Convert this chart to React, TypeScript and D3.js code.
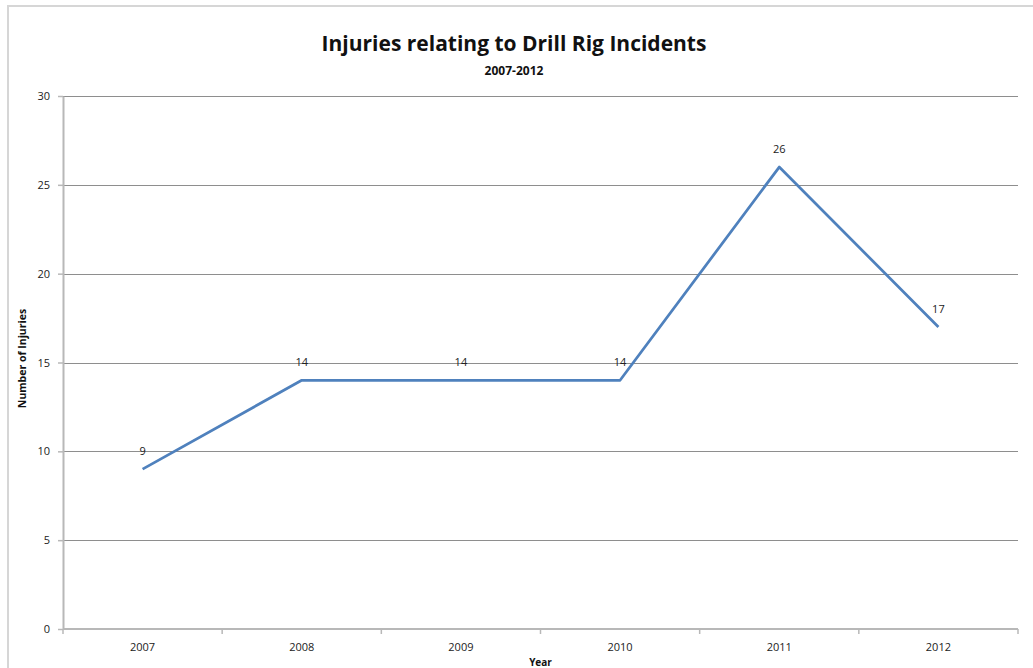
import React, { useRef, useEffect } from 'react';
import * as d3 from 'd3';

// chart data
const years = ['2007', '2008', '2009', '2010', '2011', '2012'];
const injuries = [9, 14, 14, 14, 26, 17];
const yTicks = [0, 5, 10, 15, 20, 25, 30];

const chartTitle = 'Injuries relating to Drill Rig Incidents';
const chartSubtitle = '2007-2012';
const yAxisLabel = 'Number of Injuries';
const xAxisLabel = 'Year';

const App = () => {
  const svgReference = useRef<SVGSVGElement>(null);

  useEffect(() => {
    const width = 1033;
    const height = 668;
    const margin = { top: 96, right: 15, bottom: 39, left: 63 };
    const font = 'Open Sans, Noto Sans, sans-serif';

    const svg = d3.select(svgReference.current)
      .attr('width', width)
      .attr('height', height)
      .style('display', 'block');

    svg.selectAll('*').remove();

    // outer chart border
    svg.append('rect')
      .attr('x', 8)
      .attr('y', 6)
      .attr('width', 1040)
      .attr('height', 700)
      .attr('fill', 'white')
      .attr('stroke', '#d6d6d6')
      .attr('stroke-width', 2);

    const plotW = width - margin.left - margin.right;
    const plotH = height - margin.top - margin.bottom;

    const g = svg.append('g')
      .attr('transform', `translate(${margin.left},${margin.top})`);

    // --- Scales ---
    const xScale = d3.scaleBand()
      .domain(years)
      .range([0, plotW]);

    const yScale = d3.scaleLinear()
      .domain([0, 30])
      .range([plotH, 0]);

    // gridlines
    g.append('g')
      .selectAll('line')
      .data(yTicks.filter(d => d > 0))
      .enter().append('line')
      .attr('x1', 0)
      .attr('x2', plotW)
      .attr('y1', d => Math.round(yScale(d)) + 0.5)
      .attr('y2', d => Math.round(yScale(d)) + 0.5)
      .attr('stroke', '#8e8e8e')
      .attr('stroke-width', 1);

    // Y axis
    const yAxis = g.append('g')
      .call(d3.axisLeft(yScale).tickValues(yTicks).tickSize(5).tickSizeOuter(0).tickPadding(8));
    yAxis.select('.domain').attr('stroke', '#b8b8b8').attr('stroke-width', 2);
    yAxis.selectAll('.tick line').attr('stroke', '#b8b8b8').attr('stroke-width', 1.5);
    yAxis.selectAll('.tick text')
      .attr('fill', '#222')
      .style('font-family', font)
      .style('font-size', '11px');

    // X axis: ticks at the band boundaries
    const xAxisG = g.append('g').attr('transform', `translate(0,${plotH})`);
    xAxisG.append('line')
      .attr('x1', 0)
      .attr('x2', plotW)
      .attr('y1', 0)
      .attr('y2', 0)
      .attr('stroke', '#b8b8b8')
      .attr('stroke-width', 2);
    xAxisG.selectAll('.xtick')
      .data([...years.map(y => xScale(y) as number), plotW])
      .enter().append('line')
      .attr('class', 'xtick')
      .attr('x1', d => d)
      .attr('x2', d => d)
      .attr('y1', 0)
      .attr('y2', 5)
      .attr('stroke', '#b8b8b8')
      .attr('stroke-width', 1.5);
    xAxisG.selectAll('.xlabel')
      .data(years)
      .enter().append('text')
      .attr('class', 'xlabel')
      .attr('x', d => (xScale(d) as number) + xScale.bandwidth() / 2)
      .attr('y', 22)
      .attr('text-anchor', 'middle')
      .attr('fill', '#222')
      .style('font-family', font)
      .style('font-size', '11px')
      .text(d => d);

    // --- Line ---
    const line = d3.line<number>()
      .x((d, i) => (xScale(years[i]) as number) + xScale.bandwidth() / 2)
      .y(d => yScale(d));

    g.append('path')
      .datum(injuries)
      .attr('d', line)
      .attr('fill', 'none')
      .attr('stroke', '#4f81bd')
      .attr('stroke-width', 2.75)
      .attr('stroke-linejoin', 'round');

    // data labels
    g.selectAll('.dlabel')
      .data(injuries)
      .enter().append('text')
      .attr('class', 'dlabel')
      .attr('x', (d, i) => (xScale(years[i]) as number) + xScale.bandwidth() / 2)
      .attr('y', d => yScale(d) - 14)
      .attr('text-anchor', 'middle')
      .attr('fill', '#222')
      .style('font-family', font)
      .style('font-size', '11px')
      .text(d => d);

    // --- Titles ---
    svg.append('text')
      .attr('x', 514)
      .attr('y', 51)
      .attr('text-anchor', 'middle')
      .attr('fill', '#111')
      .style('font-family', font)
      .style('font-size', '21px')
      .style('font-weight', 'bold')
      .text(chartTitle);

    svg.append('text')
      .attr('x', 514)
      .attr('y', 75)
      .attr('text-anchor', 'middle')
      .attr('fill', '#111')
      .style('font-family', font)
      .style('font-size', '12px')
      .style('font-weight', 'bold')
      .text(chartSubtitle);

    svg.append('text')
      .attr('transform', `translate(26,${margin.top + plotH / 2 - 4}) rotate(-90)`)
      .attr('text-anchor', 'middle')
      .attr('fill', '#111')
      .style('font-family', font)
      .style('font-size', '10.5px')
      .style('font-weight', 'bold')
      .text(yAxisLabel);

    svg.append('text')
      .attr('x', margin.left + plotW / 2)
      .attr('y', 666)
      .attr('text-anchor', 'middle')
      .attr('fill', '#111')
      .style('font-family', font)
      .style('font-size', '10px')
      .style('font-weight', 'bold')
      .text(xAxisLabel);
  }, []);

  return (
    <div style={{ position: 'absolute', left: 0, top: 0, width: 1033, height: 668, overflow: 'hidden' }}>
      <svg ref={svgReference}></svg>
    </div>
  );
};

export default App;
